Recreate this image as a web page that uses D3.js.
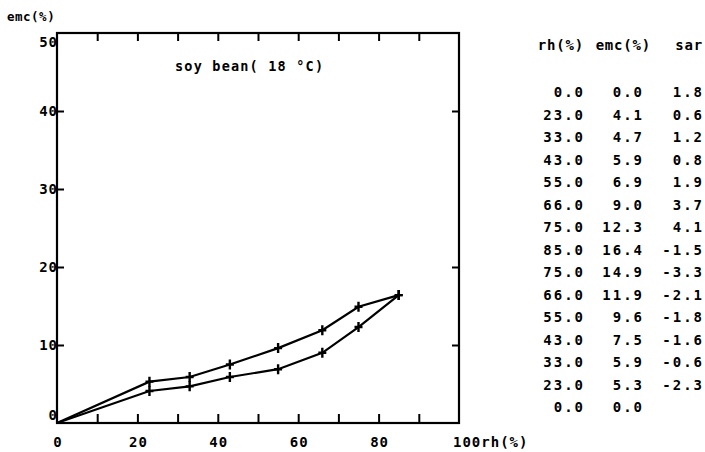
<!DOCTYPE html>
<html>
<head>
<meta charset="utf-8">
<script src="https://cdn.jsdelivr.net/npm/d3@7"></script>
<style>
  body { margin: 0; background: #fff; }
  svg text { font-family: "DejaVu Sans Mono", monospace; font-weight: bold; font-size: 14px; fill: #000; letter-spacing: 1px; }
  .tk path, .tk line { stroke: #000; stroke-width: 2; }
  .tbl text { letter-spacing: 2px; }
  .tbl text.hd { letter-spacing: 0.8px; }
</style>
</head>
<body>
<div id="chart-container"></div>
<script>
// adsorption branch (rising rh) and desorption branch (falling rh)
const rhUp = [0, 23, 33, 43, 55, 66, 75, 85];
const emcUp = [0, 4.1, 4.7, 5.9, 6.9, 9.0, 12.3, 16.4];
const rhDown = [85, 75, 66, 55, 43, 33, 23, 0];
const emcDown = [16.4, 14.9, 11.9, 9.6, 7.5, 5.9, 5.3, 0];
const sar = [1.8, 0.6, 1.2, 0.8, 1.9, 3.7, 4.1, -1.5, -3.3, -2.1, -1.8, -1.6, -0.6, -2.3, null];
const xTickLabels = [0, 20, 40, 60, 80];
const yTickLabels = [0, 10, 20, 30, 40, 50];

const width = 705, height = 452;
const margin = { top: 33, left: 57, right: 246, bottom: 29 };

const svg = d3.select("#chart-container").append("svg")
  .attr("width", width).attr("height", height);

const x = d3.scaleLinear().domain([0, 100]).range([margin.left, width - margin.right]);
const y = d3.scaleLinear().domain([0, 50]).range([height - margin.bottom, margin.top]);

// frame
svg.append("rect")
  .attr("x", x(0)).attr("y", y(50))
  .attr("width", x(100) - x(0)).attr("height", y(0) - y(50))
  .attr("fill", "none").attr("stroke", "#000").attr("stroke-width", 2.2);

const tens = d3.range(10, 100, 10);

// inward ticks on all four sides
svg.append("g").attr("class", "tk")
  .attr("transform", `translate(0,${y(0)})`)
  .call(d3.axisBottom(x).tickValues(tens).tickSize(-9).tickFormat(""))
  .call(g => g.select(".domain").remove());
svg.append("g").attr("class", "tk")
  .attr("transform", `translate(0,${y(50)})`)
  .call(d3.axisTop(x).tickValues(tens).tickSize(-8).tickFormat(""))
  .call(g => g.select(".domain").remove());
svg.append("g").attr("class", "tk")
  .attr("transform", `translate(${x(0)},0)`)
  .call(d3.axisLeft(y).tickValues([10, 20, 30, 40]).tickSize(-7).tickFormat(""))
  .call(g => g.select(".domain").remove());
svg.append("g").attr("class", "tk")
  .attr("transform", `translate(${x(100)},0)`)
  .call(d3.axisRight(y).tickValues([10, 20, 40]).tickSize(-7).tickFormat(""))
  .call(g => g.select(".domain").remove());

// tick labels
svg.append("g").selectAll("text")
  .data(xTickLabels).enter().append("text")
  .attr("x", d => x(d) + 1)
  .attr("y", y(0) + 24)
  .attr("text-anchor", "middle")
  .text(d => d);
svg.append("text")
  .attr("x", x(100) - 6).attr("y", y(0) + 24)
  .text("100rh(%)");

svg.append("g").selectAll("text")
  .data(yTickLabels).enter().append("text")
  .attr("x", x(0) + 1)
  .attr("y", d => d === 0 ? y(d) - 3 : d === 50 ? y(d) + 14 : y(d) + 5)
  .attr("text-anchor", "end")
  .text(d => d);
svg.append("text")
  .attr("x", 7).attr("y", 21)
  .style("font-size", "12.5px").style("letter-spacing", "0.5px")
  .text("emc(%)");

svg.append("text")
  .attr("x", 175).attr("y", 71)
  .style("font-size", "13.5px").style("letter-spacing", "1.2px")
  .text("soy bean( 18 °C)");

// curves
const line = d3.line().x(d => x(d[0])).y(d => y(d[1]));
const up = rhUp.map((r, i) => [r, emcUp[i]]);
const down = rhDown.map((r, i) => [r, emcDown[i]]);

[up, down].forEach(pts => {
  svg.append("path")
    .datum(pts)
    .attr("d", line)
    .attr("fill", "none")
    .attr("stroke", "#000")
    .attr("stroke-width", 2.2);

  svg.append("g").selectAll("path")
    .data(pts.filter(d => d[0] > 0))
    .enter().append("path")
    .attr("d", d => {
      const cx = x(d[0]), cy = y(d[1]);
      return `M${cx - 4},${cy}H${cx + 4}M${cx},${cy - 5}V${cy + 5}`;
    })
    .attr("stroke", "#000")
    .attr("stroke-width", 2.4);
});

// value table
const rows = up.concat(down.slice(1)).map((d, i) => ({ rh: d[0], emc: d[1], sar: sar[i] }));
const rowY = d3.scaleLinear().domain([0, rows.length - 1]).range([97, 412]);
const table = svg.append("g").attr("class", "tbl");
table.append("text").attr("class", "hd").attr("x", 584).attr("y", 50).attr("text-anchor", "end").text("rh(%)");
table.append("text").attr("class", "hd").attr("x", 651).attr("y", 50).attr("text-anchor", "end").text("emc(%)");
table.append("text").attr("class", "hd").attr("x", 703).attr("y", 50).attr("text-anchor", "end").text("sar");

const cols = [
  { key: "rh", x: 585 },
  { key: "emc", x: 644 },
  { key: "sar", x: 704 }
];
cols.forEach(c => {
  table.append("g").selectAll("text")
    .data(rows.filter(r => r[c.key] !== null))
    .enter().append("text")
    .attr("x", c.x)
    .attr("y", r => rowY(rows.indexOf(r)))
    .attr("text-anchor", "end")
    .text(r => r[c.key].toFixed(1));
});
</script>
</body>
</html>
